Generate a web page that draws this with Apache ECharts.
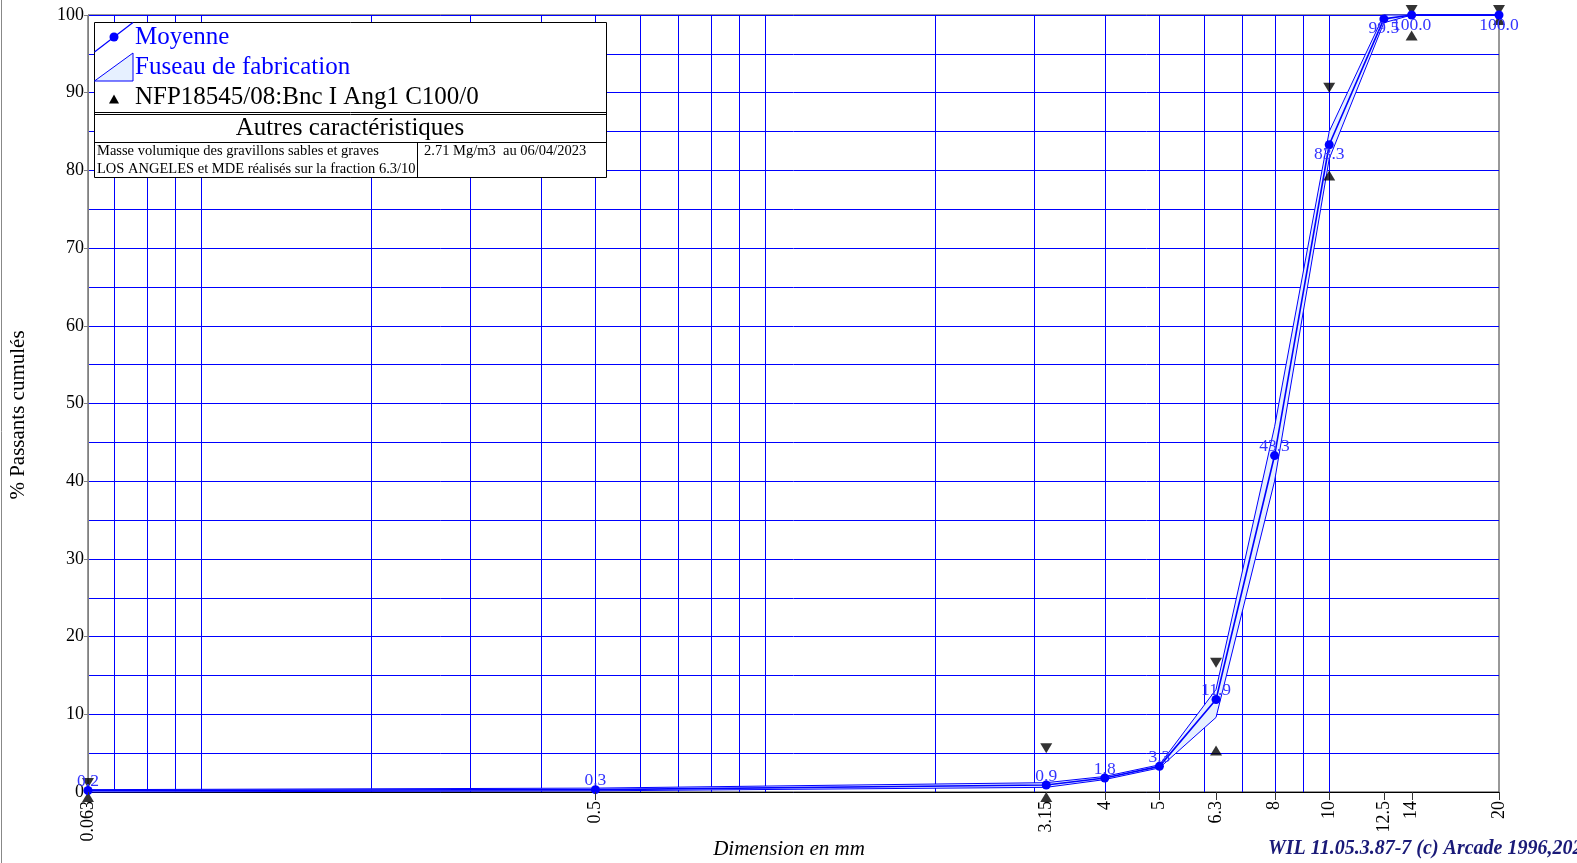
<!DOCTYPE html>
<html><head><meta charset="utf-8">
<script src="https://cdn.jsdelivr.net/npm/echarts@6/dist/echarts.min.js"></script>
<style>html,body{margin:0;padding:0;background:#fff;overflow:hidden}#c{width:1577px;height:863px}</style>
</head><body><div id="c"></div>
<script>
// ---- data ----
const sieves = [0.063, 0.5, 3.15, 4, 5, 6.3, 8, 10, 12.5, 14, 20];
const sieveLabels = ['0.063', '0.5', '3.15', '4', '5', '6.3', '8', '10', '12.5', '14', '20'];
const moyenne = [0.2, 0.3, 0.9, 1.8, 3.3, 11.9, 43.3, 83.3, 99.5, 100.0, 100.0];
const fuseauHaut = [0.3, 0.5, 1.2, 2.0, 3.5, 13.2, 47.0, 85.0, 100, 100, 100];
const fuseauBas = [0.0, 0.15, 0.6, 1.6, 3.1, 9.6, 40.0, 81.5, 99.0, 100, 100];
const specSieves = [0.063, 3.15, 6.3, 10, 14, 20];
const specMax = [0.5, 5, 16, 90, 100, 100];
const specMin = [0, 0, 6, 80, 98, 100];
const gridX = [0.07, 0.08, 0.09, 0.1, 0.2, 0.3, 0.4, 0.5, 0.6, 0.7, 0.8, 0.9, 1, 2, 3, 4, 5, 6, 7, 8, 9, 10];

const SERIF = '"Liberation Serif", "Times New Roman", serif';
const BLUE = '#0000ff';
const chart = echarts.init(document.getElementById('c'));

const option = {
  animation: false,
  backgroundColor: '#fff',
  grid: { left: 88, right: 78, top: 15, bottom: 71, show: true, borderColor: '#333', borderWidth: 1 },
  xAxis: {
    type: 'log', logBase: 10, min: 0.063, max: 20,
    axisLine: { show: true, lineStyle: { color: '#000', width: 1 } },
    axisTick: { show: false }, axisLabel: { show: false }, splitLine: { show: false }
  },
  yAxis: {
    type: 'value', min: 0, max: 100, interval: 10,
    axisLine: { show: true, lineStyle: { color: '#808080' } },
    axisTick: { show: true, length: 4, lineStyle: { color: '#808080' } },
    axisLabel: { fontFamily: SERIF, fontSize: 18, color: '#000', margin: 4 },
    splitLine: { show: true, lineStyle: { color: BLUE, width: 1 } },
    minorTick: { show: false, splitNumber: 2 },
    minorSplitLine: { show: true, lineStyle: { color: BLUE, width: 1 } }
  },
  graphic: [
    { type: 'line', shape: { x1: 1.5, y1: 0, x2: 1.5, y2: 863 }, style: { stroke: '#888', lineWidth: 1 } },
    // legend / info box
    { type: 'rect', z: 100, shape: { x: 94.5, y: 22.5, width: 512, height: 155 }, style: { fill: '#fff', stroke: '#000', lineWidth: 1 } },
    { type: 'line', z: 101, shape: { x1: 94.5, y1: 112.5, x2: 606.5, y2: 112.5 }, style: { stroke: '#000', lineWidth: 1 } },
    { type: 'line', z: 101, shape: { x1: 94.5, y1: 114.5, x2: 606.5, y2: 114.5 }, style: { stroke: '#000', lineWidth: 1 } },
    { type: 'line', z: 101, shape: { x1: 94.5, y1: 142.5, x2: 606.5, y2: 142.5 }, style: { stroke: '#000', lineWidth: 1 } },
    { type: 'line', z: 101, shape: { x1: 417.5, y1: 142.5, x2: 417.5, y2: 177.5 }, style: { stroke: '#000', lineWidth: 1 } },
    { type: 'line', z: 101, shape: { x1: 94.5, y1: 52, x2: 133, y2: 22.5 }, style: { stroke: BLUE, lineWidth: 1.2 } },
    { type: 'circle', z: 102, shape: { cx: 114, cy: 37, r: 4.5 }, style: { fill: BLUE } },
    { type: 'polygon', z: 101, shape: { points: [[94.5, 81], [133, 53], [133, 81]] }, style: { fill: '#e6f0ff', stroke: BLUE, lineWidth: 1 } },
    { type: 'polygon', z: 101, shape: { points: [[114, 94.5], [119, 103.5], [109, 103.5]] }, style: { fill: '#000' } },
    { type: 'text', z: 102, x: 135, y: 37, style: { text: 'Moyenne', font: '25px ' + SERIF, fill: BLUE, verticalAlign: 'middle' } },
    { type: 'text', z: 102, x: 135, y: 67, style: { text: 'Fuseau de fabrication', font: '25px ' + SERIF, fill: BLUE, verticalAlign: 'middle' } },
    { type: 'text', z: 102, x: 135, y: 97, style: { text: 'NFP18545/08:Bnc I Ang1 C100/0', font: '25px ' + SERIF, fill: '#000', verticalAlign: 'middle' } },
    { type: 'text', z: 102, x: 350, y: 128.5, style: { text: 'Autres caractéristiques', font: '25px ' + SERIF, fill: '#000', align: 'center', verticalAlign: 'middle' } },
    { type: 'text', z: 102, x: 97, y: 151, style: { text: 'Masse volumique des gravillons sables et graves', font: '14.5px ' + SERIF, fill: '#000', verticalAlign: 'middle' } },
    { type: 'text', z: 102, x: 97, y: 169, style: { text: 'LOS ANGELES et MDE réalisés sur la fraction 6.3/10', font: '14.5px ' + SERIF, fill: '#000', verticalAlign: 'middle' } },
    { type: 'text', z: 102, x: 424, y: 151, style: { text: '2.71 Mg/m3  au 06/04/2023', font: '14.5px ' + SERIF, fill: '#000', verticalAlign: 'middle' } },
    // axis titles & footer
    { type: 'text', x: 18, y: 415, rotation: Math.PI / 2, style: { text: '% Passants cumulés', font: '21px ' + SERIF, fill: '#000', align: 'center', verticalAlign: 'middle' } },
    { type: 'text', x: 789, y: 849, style: { text: 'Dimension en mm', font: 'italic 21px ' + SERIF, fill: '#000', align: 'center', verticalAlign: 'middle' } },
    { type: 'text', x: 1268, y: 849, style: { text: 'WIL 11.05.3.87-7 (c) Arcade 1996,2023', font: 'italic bold 20px ' + SERIF, fill: '#1a1a78', verticalAlign: 'middle' } }
  ],
  series: [
    {
      type: 'custom', name: 'grilleX', silent: true, z: 1, clip: false,
      data: gridX.map(v => [v, 0]),
      renderItem: (params, api) => {
        const v = api.value(0);
        const p0 = api.coord([v, 0]), p1 = api.coord([v, 100]);
        const x = Math.round(p0[0]) + 0.5;
        return { type: 'line', shape: { x1: x, y1: p0[1], x2: x, y2: p1[1] }, style: { stroke: BLUE, lineWidth: 1 } };
      }
    },
    {
      type: 'custom', name: 'Fuseau de fabrication', silent: true, z: 2, clip: false,
      data: [[sieves[0], fuseauBas[0]]],
      renderItem: (params, api) => {
        const top = sieves.map((s, i) => api.coord([s, fuseauHaut[i]]));
        const bot = sieves.map((s, i) => api.coord([s, fuseauBas[i]])).reverse();
        return { type: 'polygon', shape: { points: top.concat(bot) }, style: { fill: '#e6f0ff' } };
      }
    },
    {
      type: 'line', name: 'fuseauBas', symbol: 'none', z: 3, clip: false,
      lineStyle: { color: BLUE, width: 1 },
      data: sieves.map((s, i) => [s, fuseauBas[i]])
    },
    {
      type: 'line', name: 'fuseauHaut', symbol: 'none', z: 3, clip: false,
      lineStyle: { color: BLUE, width: 1 },
      data: sieves.map((s, i) => [s, fuseauHaut[i]])
    },
    {
      type: 'scatter', name: 'specMax', symbol: 'triangle', symbolRotate: 180, symbolSize: [12, 10], symbolOffset: [0, -5],
      itemStyle: { color: '#000' }, z: 4, clip: false,
      data: specSieves.map((s, i) => [s, specMax[i]])
    },
    {
      type: 'scatter', name: 'specMin', symbol: 'triangle', symbolSize: [12, 10], symbolOffset: [0, 5],
      itemStyle: { color: '#000' }, z: 4, clip: false,
      data: specSieves.map((s, i) => [s, specMin[i]])
    },
    {
      type: 'line', name: 'Moyenne', symbol: 'circle', symbolSize: 9, z: 5, clip: false,
      lineStyle: { color: BLUE, width: 1.6 }, itemStyle: { color: BLUE },
      label: {
        show: true, position: 'inside', fontFamily: SERIF, fontSize: 17.5, color: '#3333ff',
        formatter: p => p.value[1].toFixed(1)
      },
      data: sieves.map((s, i) => ({ value: [s, moyenne[i]], label: { offset: moyenne[i] >= 80 ? [0, 10] : [0, -9] } }))
    },
    {
      type: 'custom', name: 'graduations', silent: true, z: 6, clip: false,
      data: sieves.map(v => [v, 0]),
      renderItem: (params, api) => {
        const v = api.value(0);
        const p = api.coord([v, 0]);
        const x = Math.round(p[0]) + 0.5;
        return {
          type: 'group', children: [
            { type: 'line', shape: { x1: x, y1: p[1], x2: x, y2: p[1] + 8 }, style: { stroke: '#333', lineWidth: 1 } },
            { type: 'text', x: p[0], y: p[1] + 9, rotation: Math.PI / 2,
              style: { text: sieveLabels[params.dataIndex], align: 'right', verticalAlign: 'middle', font: '18px ' + SERIF, fill: '#000' } }
          ]
        };
      }
    }
  ]
};
chart.setOption(option);
</script></body></html>
